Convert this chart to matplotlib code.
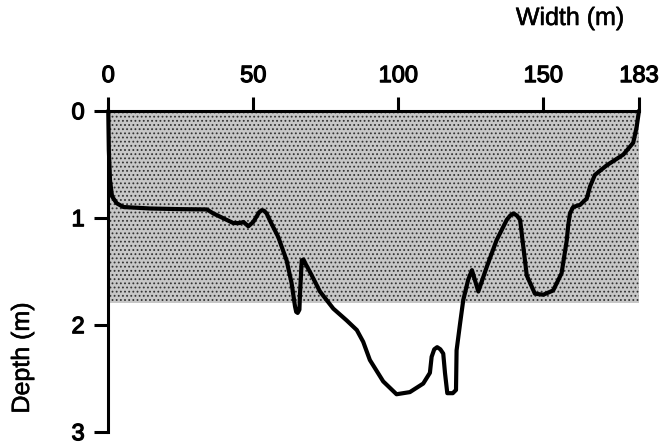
import matplotlib.pyplot as plt
import matplotlib.patheffects as pe

# river cross-section
width_m = [0, 0.2, 0.6, 1.3, 2.9, 5.2, 14.4, 24.7, 34.0, 36.2, 38.5, 43.1, 45.4, 46.6,
           48.3, 50.0, 52.0, 52.9, 53.7, 54.6, 55.8, 58.6, 61.5, 63.2, 64.4, 64.8, 65.3,
           65.9, 66.1, 66.7, 67.3, 68.0, 69.6, 73.0, 77.6, 82.2, 85.7, 87.9, 90.2, 94.8,
           99.4, 104.0, 108.6, 110.9, 111.5, 112.4, 113.4, 114.5, 115.5, 116.1, 116.9,
           118.8, 119.9, 120.1, 121.3, 122.4, 124.1, 125.4, 127.6, 130.5, 133.9, 137.4,
           138.6, 139.7, 140.9, 142.0, 143.1, 144.3, 147.1, 150.0, 153.4, 156.3, 158.1,
           158.6, 159.2, 160.3, 162.7, 165.0, 166.1, 167.8, 171.9, 177.6, 181.0, 182.2,
           183]
depth_m = [0, 0.37, 0.65, 0.80, 0.865, 0.90, 0.914, 0.92, 0.923, 0.96, 0.99, 1.05, 1.05,
           1.04, 1.08, 1.04, 0.95, 0.93, 0.935, 0.96, 1.03, 1.18, 1.40, 1.61, 1.83, 1.88,
           1.89, 1.86, 1.72, 1.40, 1.39, 1.43, 1.51, 1.69, 1.85, 1.96, 2.05, 2.16, 2.33,
           2.53, 2.65, 2.63, 2.55, 2.45, 2.30, 2.23, 2.21, 2.23, 2.27, 2.45, 2.64, 2.64,
           2.61, 2.24, 1.99, 1.77, 1.58, 1.49, 1.69, 1.46, 1.21, 1.02, 0.98, 0.96, 0.98,
           1.02, 1.27, 1.54, 1.71, 1.72, 1.68, 1.52, 1.21, 1.07, 0.96, 0.90, 0.88, 0.82,
           0.71, 0.60, 0.51, 0.41, 0.30, 0.15, 0]

shade_width = [0, 183]
shade_depth = 1.8

x_ticks = [0, 50, 100, 150, 183]
y_ticks = [0, 1, 2, 3]

plt.rcParams['font.family'] = ['Liberation Sans', 'DejaVu Sans']
plt.rcParams['hatch.linewidth'] = 0.8

fig = plt.figure(figsize=(6.63, 4.48), dpi=100)
ax = fig.add_axes([0.1633, 0.0364, 0.8005, 0.7165])

# stippled area (halftone in the original)
ax.fill_between(shade_width, 0, shade_depth, facecolor='0.78', edgecolor='0.2',
                hatch='....', linewidth=0)

ax.plot(width_m, depth_m, color='black', linewidth=3, solid_capstyle='round',
        solid_joinstyle='round', clip_on=False, zorder=3)

ax.set_xlim(0, 183)
ax.set_ylim(3, 0)
ax.xaxis.tick_top()
ax.set_xticks(x_ticks)
ax.set_yticks(y_ticks)
ax.tick_params(axis='both', direction='out', length=10, width=2.2, pad=7,
               labelsize=17, color='black')
# slightly heavier than regular, like the scanned labels
for lab in ax.get_xticklabels() + ax.get_yticklabels():
    lab.set_path_effects([pe.withStroke(linewidth=0.9, foreground='black')])

ax.spines['right'].set_visible(False)
ax.spines['bottom'].set_visible(False)
ax.spines['top'].set_linewidth(2.2)
ax.spines['left'].set_linewidth(2.2)

thick = [pe.withStroke(linewidth=0.4, foreground='black')]
fig.text(570 / 663, 1 - 18 / 448, 'Width (m)', ha='center', va='center', fontsize=18,
         path_effects=thick)
fig.text(22 / 663, 1 - 358 / 448, 'Depth (m)', rotation=90, ha='center', va='center',
         fontsize=18, path_effects=thick)

plt.savefig('out.png', dpi=100)
